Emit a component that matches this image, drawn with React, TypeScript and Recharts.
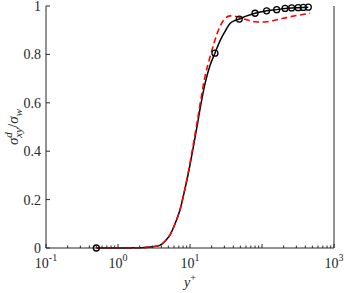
import React from 'react';
import { ComposedChart, Line, Scatter, XAxis, YAxis } from 'recharts';

// black solid curve (y+ , sigma ratio)
const blackX = [0.5, 1, 1.5, 2, 2.5, 3, 3.8, 4.5, 5.3, 6.2, 7.3, 8.3, 9.5, 11, 12.4, 14, 16.2, 19, 22.2, 26, 30, 36, 42, 48.4, 60, 80, 116, 160, 209, 258, 318, 374, 439];
const blackY = [0, 0, 0.0005, 0.001, 0.003, 0.005, 0.011, 0.028, 0.055, 0.1, 0.16, 0.23, 0.31, 0.41, 0.495, 0.585, 0.68, 0.755, 0.805, 0.855, 0.89, 0.928, 0.94, 0.946, 0.958, 0.97, 0.98, 0.985, 0.99, 0.992, 0.993, 0.994, 0.995];

// circle markers on the black curve
const markerX = [0.5, 22.2, 48.4, 80, 116, 160, 209, 258, 318, 374, 439];
const markerY = [0, 0.805, 0.946, 0.97, 0.98, 0.985, 0.99, 0.992, 0.993, 0.994, 0.995];

// red dashed curve
const redX = [0.5, 1, 2, 3, 3.8, 4.5, 5.3, 6.2, 7.3, 8.3, 9.5, 11, 12.4, 14, 16.2, 19, 22, 26, 30, 36, 42, 50, 58, 68, 80, 95, 116, 150, 198, 260, 337, 464];
const redY = [0, 0, 0.001, 0.005, 0.011, 0.028, 0.055, 0.1, 0.16, 0.23, 0.315, 0.42, 0.51, 0.605, 0.71, 0.79, 0.855, 0.915, 0.945, 0.959, 0.958, 0.952, 0.945, 0.939, 0.935, 0.934, 0.935, 0.941, 0.949, 0.957, 0.963, 0.97];

// axis ticks
const decades = [0.1, 1, 10, 100, 1000];
const labeledExponents = ['-1', '0', '1', null, '3'];
const yTicks = [0, 0.2, 0.4, 0.6, 0.8, 1];
const yTickLabels = ['0', '0.2', '0.4', '0.6', '0.8', '1'];

const xTicks: number[] = [];
decades.forEach((d, i) => {
  if (i < decades.length - 1) {
    for (let k = 1; k <= 9; k++) xTicks.push(d * k);
  } else xTicks.push(d);
});

const blackData = blackX.map((x, i) => ({ x, y: blackY[i] }));
const markerData = markerX.map((x, i) => ({ x, y: markerY[i] }));
const redData = redX.map((x, i) => ({ x, y: redY[i] }));

const AX = '#262626';
const FONT = 'Liberation Serif, DejaVu Serif, serif';
const txt = { fontFamily: FONT };

const majorIndex = (v: number) => decades.findIndex((d) => Math.abs(d - v) < d * 1e-6);

const BottomTick = (props: any) => {
  const { x, y, payload } = props;
  const mi = majorIndex(payload.value);
  const len = mi >= 0 ? 4 : 2.5;
  const exp = mi >= 0 ? labeledExponents[mi] : null;
  return (
    <g>
      <line x1={x} x2={x} y1={y} y2={y - len} stroke={AX} strokeWidth={1} />
      {exp !== null && (
        <text x={x} y={y + 20} textAnchor="middle" style={txt} fontSize={14} fill={AX}>
          10<tspan dy={-7} fontSize={10}>{exp}</tspan>
        </text>
      )}
    </g>
  );
};

const TopTick = (props: any) => {
  const { x, y, payload } = props;
  const mi = majorIndex(payload.value);
  const len = mi >= 0 ? 4 : 2.5;
  return <line x1={x} x2={x} y1={y} y2={y + len} stroke={AX} strokeWidth={1} />;
};

const LeftTick = (props: any) => {
  const { x, y, payload } = props;
  const idx = yTicks.findIndex((t) => Math.abs(t - payload.value) < 1e-9);
  return (
    <g>
      <line x1={x} x2={x + 4} y1={y} y2={y} stroke={AX} strokeWidth={1} />
      <text x={x - 5} y={y + 5} textAnchor="end" style={txt} fontSize={14} fill={AX}>
        {idx >= 0 ? yTickLabels[idx] : ''}
      </text>
    </g>
  );
};

const RightTick = (props: any) => {
  const { x, y } = props;
  return <line x1={x} x2={x - 4} y1={y} y2={y} stroke={AX} strokeWidth={1} />;
};

const YLabel = (props: any) => {
  const vb = props.viewBox || { x: 0, y: 6, width: 46, height: 242 };
  const cx = vb.x + 18;
  const cy = vb.y + vb.height / 2;
  return (
    <text
      transform={`rotate(-90 ${cx} ${cy})`}
      x={cx}
      y={cy}
      textAnchor="middle"
      style={txt}
      fontSize={15}
      fontStyle="italic"
      fill={AX}
    >
      σ<tspan dy={-6} fontSize={11}>d</tspan>
      <tspan dx={-5.5} dy={9.5} fontSize={11}>xy</tspan>
      <tspan dy={-3.5} fontStyle="normal">/</tspan>
      <tspan>σ</tspan>
      <tspan dy={3.5} fontSize={11}>w</tspan>
    </text>
  );
};

const XLabel = (props: any) => {
  const vb = props.viewBox || { x: 46, y: 248, width: 288, height: 45 };
  const cx = vb.x + vb.width / 2;
  return (
    <text x={cx} y={vb.y + 39} textAnchor="middle" style={txt} fontSize={14} fill={AX}>
      <tspan fontStyle="italic">y</tspan>
      <tspan dy={-6} fontSize={10}>+</tspan>
    </text>
  );
};

const Marker = (props: any) => (
  <circle cx={props.cx} cy={props.cy} r={3} fill="none" stroke="#000" strokeWidth={1.3} />
);

export default function App() {
  return (
    <div style={{ position: 'absolute', left: 0, top: 0, width: 346, height: 293, background: '#fff' }}>
      <ComposedChart width={346} height={293} margin={{ top: 6, right: 0, bottom: 0, left: 0 }}>
        <XAxis
          dataKey="x"
          type="number"
          scale="log"
          domain={[0.1, 1000]}
          allowDataOverflow
          ticks={xTicks}
          interval={0}
          tickSize={0}
          tickMargin={0}
          tickLine={false}
          tick={<BottomTick />}
          height={45}
          axisLine={{ stroke: AX, strokeWidth: 1 }}
          label={(p: any) => <XLabel {...p} />}
        />
        <XAxis
          xAxisId="top"
          orientation="top"
          dataKey="x"
          type="number"
          scale="log"
          domain={[0.1, 1000]}
          allowDataOverflow
          ticks={xTicks}
          interval={0}
          tickSize={0}
          tickMargin={0}
          tickLine={false}
          tick={<TopTick />}
          height={0}
          axisLine={{ stroke: AX, strokeWidth: 1 }}
        />
        <YAxis
          type="number"
          domain={[0, 1]}
          ticks={yTicks}
          interval={0}
          tickSize={0}
          tickMargin={0}
          tickLine={false}
          tick={<LeftTick />}
          width={46}
          axisLine={{ stroke: AX, strokeWidth: 1 }}
          label={(p: any) => <YLabel {...p} />}
        />
        <YAxis
          yAxisId="right"
          orientation="right"
          type="number"
          domain={[0, 1]}
          ticks={yTicks}
          interval={0}
          tickSize={0}
          tickMargin={0}
          tickLine={false}
          tick={<RightTick />}
          width={12}
          axisLine={{ stroke: AX, strokeWidth: 1 }}
        />
        <Line
          data={blackData}
          dataKey="y"
          type="monotone"
          stroke="#000"
          strokeWidth={1.5}
          dot={false}
          activeDot={false}
          isAnimationActive={false}
        />
        <Scatter data={markerData} dataKey="y" shape={<Marker />} isAnimationActive={false} />
        <Line
          data={redData}
          dataKey="y"
          type="monotone"
          stroke="#ff0000"
          strokeWidth={1.6}
          strokeDasharray="6 3.5"
          dot={false}
          activeDot={false}
          isAnimationActive={false}
        />
      </ComposedChart>
    </div>
  );
}
